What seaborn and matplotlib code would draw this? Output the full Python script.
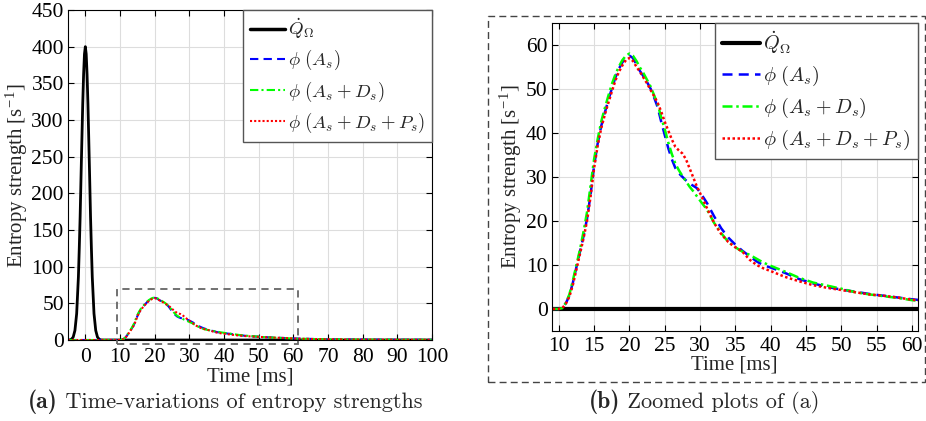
import numpy as np
import pandas as pd
import matplotlib
matplotlib.use("Agg")
import matplotlib.pyplot as plt
from matplotlib.patches import Rectangle
from matplotlib.lines import Line2D
import seaborn as sns

# ---------------- data ----------------
t_q = [-5, -4.5, -4, -3.5, -3, -2.5, -2, -1.75, -1.5, -1.25, -1, -0.75, -0.5, -0.25, 0,
       0.25, 0.5, 0.75, 1, 1.25, 1.5, 1.75, 2, 2.5, 3, 3.5, 4, 4.5, 5, 100]
q_dot = [0, 0.1, 1, 4, 13, 36, 86, 125, 168, 221, 272, 322, 362, 390, 400,
         390, 362, 322, 272, 221, 168, 125, 86, 36, 13, 4, 1, 0.1, 0, 0]

t_phi = [-5, 9, 10, 10.5, 11, 11.5, 12, 12.5, 13, 13.5, 14, 14.5, 15, 15.5, 16, 16.5,
         17, 17.5, 18, 18.5, 19, 19.5, 20, 20.5, 21, 21.5, 22, 22.5, 23, 23.5, 24, 24.5,
         25, 25.5, 26, 26.5, 27, 27.5, 28, 28.5, 29, 29.5, 30, 31, 32, 33, 34, 35, 36,
         37, 38, 39, 40, 42, 44, 46, 48, 50, 52, 54, 56, 58, 60, 62, 65, 70, 75, 80, 90, 100]

phi_A = [0, 0, 0, 0.2, 1.3, 3.0, 6.0, 9.5, 13.0, 16.5, 20.5, 26.0, 32.5, 37.5, 41.5, 44.5,
         47.3, 50.0, 52.5, 54.5, 56.0, 57.0, 57.5, 57.0, 55.5, 54.0, 52.8, 51.5, 50.0, 48.0, 45.8, 42.5,
         39.5, 36.5, 34.0, 32.0, 30.8, 30.0, 29.2, 28.5, 28.0, 27.5, 26.5, 24.0, 21.0, 18.3, 16.2, 14.6, 13.2,
         12.0, 10.8, 9.9, 9.4, 8.2, 6.8, 5.8, 5.0, 4.4, 3.9, 3.4, 3.0, 2.6, 2.2, 1.9, 1.5, 1.0, 0.7, 0.5, 0.3, 0.2]

phi_AD = [0, 0, 0, 0.2, 1.4, 3.3, 6.5, 10.0, 13.5, 17.5, 22.0, 28.0, 34.0, 38.5, 42.5, 45.5,
          48.3, 51.0, 53.2, 55.0, 56.5, 57.5, 58.0, 57.5, 56.3, 54.8, 53.5, 52.0, 50.5, 48.5, 46.5, 43.5,
          40.8, 37.8, 35.2, 33.0, 31.5, 30.2, 29.0, 27.8, 26.8, 25.7, 24.6, 22.5, 19.5, 17.2, 15.2, 14.0, 13.0,
          12.3, 11.4, 10.5, 9.8, 8.5, 7.1, 6.0, 5.3, 4.6, 3.8, 3.3, 2.9, 2.5, 2.0, 1.7, 1.4, 1.0, 0.7, 0.5, 0.3, 0.2]

phi_ADP = [0, 0, 0, 0.2, 1.2, 2.8, 5.5, 9.0, 12.5, 16.0, 20.0, 25.5, 32.0, 37.0, 41.0, 44.0,
           46.7, 49.3, 51.8, 53.8, 55.3, 56.5, 57.0, 56.3, 55.0, 53.8, 52.5, 51.2, 49.7, 48.3, 46.8, 44.8,
           42.5, 40.5, 38.5, 36.8, 36.0, 35.3, 34.0, 32.0, 30.0, 28.0, 26.3, 22.8, 19.5, 17.0, 15.2, 14.0, 13.0,
           11.2, 10.0, 9.2, 8.6, 7.3, 6.3, 5.4, 4.8, 4.3, 3.8, 3.3, 3.0, 2.6, 2.1, 1.8, 1.4, 1.0, 0.7, 0.5, 0.3, 0.2]

labels = [r'$\dot{Q}_\Omega$', r'$\phi\ (A_s)$', r'$\phi\ (A_s+D_s)$', r'$\phi\ (A_s+D_s+P_s)$']
captions = ["(a)", " Time-variations of entropy strengths", "(b)", " Zoomed plots of (a)"]
xlabel = "Time [ms]"
ylabel = r"Entropy strength [s$^{\mathregular{-1}}$]"
xticks_a = list(range(0, 101, 10))
yticks_a = list(range(0, 451, 50))
xticks_b = list(range(10, 61, 5))
yticks_b = list(range(0, 61, 10))

df_q = pd.DataFrame({"t": t_q, "v": q_dot})
df_phi = pd.DataFrame({"t": t_phi, "A": phi_A, "AD": phi_AD, "ADP": phi_ADP})

# ---------------- style ----------------
sns.set_theme(style="ticks")
plt.rcParams.update({
    "font.family": ["Liberation Serif", "DejaVu Serif"],
    "mathtext.fontset": "cm",
    "axes.edgecolor": "black",
    "axes.linewidth": 0.8,
    "xtick.direction": "in",
    "ytick.direction": "in",
    "xtick.top": True,
    "ytick.right": True,
    "xtick.color": "black",
    "ytick.color": "black",
})

W, H = 926, 421
fig = plt.figure(figsize=(W / 100, H / 100), dpi=100)
ax1 = fig.add_axes([68 / W, 1 - 340 / H, 364 / W, 330 / H])
ax2 = fig.add_axes([551.7 / W, 1 - 331 / H, 366 / W, 308.3 / H])

styles = [
    dict(color="black", linestyle="-"),
    dict(color=(0, 0, 1), linestyle=(0, (4, 2.5))),
    dict(color=(0, 1, 0), linestyle=(0, (4, 1.5, 1, 1.5))),
    dict(color=(1, 0, 0), linestyle=(0, (1, 1))),
]


def draw(ax, qlw, plw, xpad, ypad):
    sns.lineplot(data=df_q, x="t", y="v", ax=ax, lw=qlw, **styles[0], sort=False)
    for key, st in zip(["A", "AD", "ADP"], styles[1:]):
        sns.lineplot(data=df_phi, x="t", y=key, ax=ax, lw=plw, **st, sort=False)
    ax.grid(True, color="#dddddd", lw=0.8)
    ax.set_axisbelow(True)
    ax.set_xlabel(xlabel, fontsize=15, labelpad=0)
    ax.set_ylabel(ylabel, fontsize=15, labelpad=ypad)
    ax.tick_params(labelsize=15.5, length=4, width=0.8, pad=3)
    ax.tick_params(axis="x", pad=xpad)
    for s in ax.spines.values():
        s.set_visible(True)


draw(ax1, 2.0, 1.5, 6, 0.5)
ax1.set_xlim(-5, 100)
ax1.set_ylim(0, 450)
ax1.set_xticks(xticks_a)
ax1.set_yticks(yticks_a)
ax1.add_patch(Rectangle((9, -5.5), 52.4, 74.5, fill=False, ec="#666666", lw=1.3,
                        ls=(0, (4, 3)), clip_on=False, zorder=5))

draw(ax2, 3.0, 1.8, 4, 0.5)
ax2.set_xlim(9, 60.8)
ax2.set_ylim(-5, 65)
ax2.set_xticks(xticks_b)
ax2.set_yticks(yticks_b)


def legend(ax, fs, lw_list):
    handles = [Line2D([], [], lw=lw, **st) for st, lw in zip(styles, lw_list)]
    lg = ax.legend(handles, labels, loc="upper right", borderaxespad=0, fancybox=False,
                   framealpha=1, edgecolor="#555555", fontsize=fs, handlelength=1.9,
                   handletextpad=0.15, labelspacing=0.38, borderpad=0.35)
    lg.get_frame().set_linewidth(1.0)


legend(ax1, 13.5, [2.5, 1.5, 1.5, 1.5])
legend(ax2, 14.5, [3.0, 1.8, 1.8, 1.8])

# dashed frame around panel (b)
fig.patches.append(Rectangle((488 / W, 1 - 382 / H), (925 - 488) / W, (382 - 15.7) / H,
                             transform=fig.transFigure, fill=False, ec="#444444", lw=1.0,
                             ls=(0, (5, 3))))

# captions
def caption(xc, y, tag, rest):
    t1 = fig.text(0, y, tag, fontsize=17, family="cmb10", va="center", ha="left")
    t2 = fig.text(0, y, rest, fontsize=16, family="cmr10", va="center", ha="left")
    fig.canvas.draw()
    r = fig.canvas.get_renderer()
    w1 = t1.get_window_extent(r).width
    w2 = t2.get_window_extent(r).width
    x0 = xc - (w1 + w2) / 2
    t1.set_x(x0 / W)
    t2.set_x((x0 + w1) / W)


caption(225, 1 - 402 / H, captions[0], captions[1])
caption(704, 1 - 402 / H, captions[2], captions[3])

fig.savefig("out.png", dpi=100)
